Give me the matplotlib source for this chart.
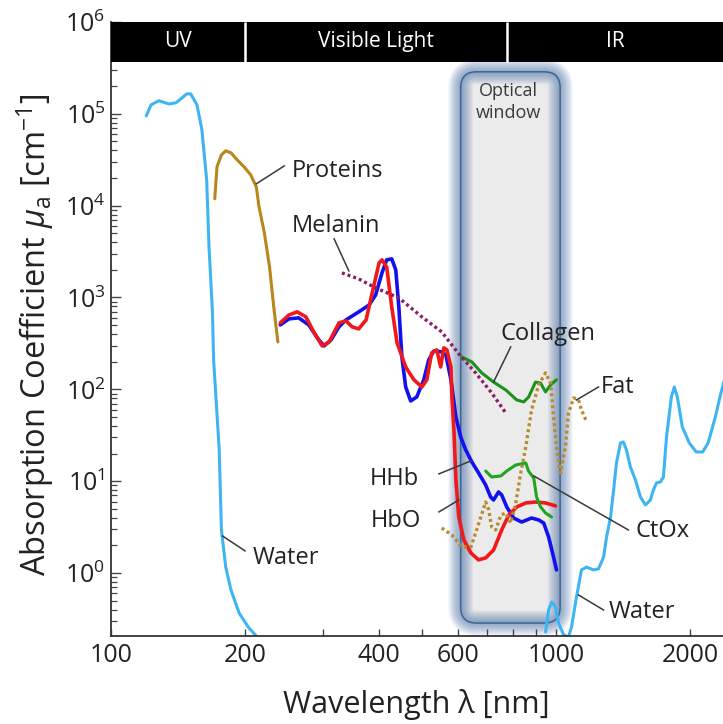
#!/usr/bin/env python3
"""
Absorption spectra of the main tissue chromophores, log-log plot
with the UV / visible / IR band header and the optical window.
"""

import matplotlib
matplotlib.use('Agg')
import matplotlib.pyplot as plt
from matplotlib.patches import Rectangle, FancyBboxPatch
from matplotlib.ticker import FixedLocator, LogLocator, NullFormatter

plt.rcParams['font.family'] = ['Open Sans', 'DejaVu Sans']
plt.rcParams['mathtext.fontset'] = 'custom'
plt.rcParams['mathtext.rm'] = 'Open Sans'
plt.rcParams['mathtext.it'] = 'Open Sans:italic'

# ---- spectra (wavelength in nm, mu_a in cm^-1) ----
WATER_UV_NM = [120, 123, 128, 135, 140, 148, 151, 156, 160, 164, 166, 169,
               170, 175, 177, 181, 186, 194, 204, 212]
WATER_UV_MUA = [9.5e4, 1.25e5, 1.39e5, 1.28e5, 1.32e5, 1.65e5, 1.65e5, 1.25e5,
                6.7e4, 1.91e4, 3.56e3, 680, 209, 21.9, 2.94, 1.16, 0.65, 0.366,
                0.252, 0.206]

PROTEIN_NM = [171, 173, 177, 181, 186, 192, 199, 206, 212, 215, 221, 227, 232, 237]
PROTEIN_MUA = [1.19e4, 2.65e4, 3.57e4, 3.96e4, 3.76e4, 3.15e4, 2.65e4, 2.16e4,
               1.6e4, 9.7e3, 5.06e3, 2.15e3, 790, 328]

HHB_NM = [240, 251, 264, 278, 293, 301, 312, 325, 337, 360, 380, 393, 406, 416,
          427, 436, 443, 450, 459, 471, 486, 504, 517, 531, 553, 565, 580, 595,
          610, 626, 646, 669, 694, 712, 723, 742, 754, 774, 802, 836, 880, 913,
          937, 961, 986, 1001]
HHB_MUA = [503, 585, 600, 503, 345, 297, 345, 479, 570, 697, 830, 1067, 1854,
           2569, 2634, 1998, 790, 225, 106, 74.7, 82.6, 127, 209, 262, 256, 237,
           127, 50.0, 30.3, 21.9, 16.2, 12.3, 9.09, 6.73, 6.24, 7.63, 7.07, 5.24,
           3.97, 3.59, 3.97, 3.78, 3.50, 2.47, 1.49, 1.08]

HBO_NM = [240, 251, 262, 274, 286, 298, 309, 325, 337, 348, 360, 374, 386, 400,
          406, 416, 427, 439, 459, 479, 499, 512, 525, 539, 550, 559, 568, 580,
          583, 589, 595, 604, 620, 643, 669, 694, 723, 754, 782, 815, 854, 898,
          946, 996]
HBO_MUA = [529, 646, 697, 615, 412, 297, 328, 529, 556, 479, 455, 570, 1122,
           2382, 2569, 2154, 790, 320, 175, 127, 106, 127, 249, 269, 175, 283,
           269, 175, 82.6, 36.1, 10.3, 4.07, 2.29, 1.65, 1.39, 1.46, 1.78, 2.94,
           4.28, 5.24, 5.79, 5.93, 5.79, 5.37]

MELANIN_NM = [330, 360, 393, 443, 499, 553, 604, 659, 716, 770]
MELANIN_MUA = [1854, 1594, 1272, 990, 615, 422, 243, 151, 91.4, 55.3]

COLLAGEN_NM = [613, 646, 680, 723, 770, 815, 845, 867, 898, 922, 946, 971, 1001]
COLLAGEN_MUA = [225, 199, 151, 120, 98.5, 76.6, 72.9, 82.6, 120, 117, 93.7, 112, 127]

CTOX_NM = [694, 716, 751, 774, 811, 854, 866, 890, 903, 922, 946, 976]
CTOX_MUA = [12.9, 11.1, 11.4, 12.9, 15.0, 15.8, 12.9, 10.8, 6.73, 5.24, 4.50, 4.07]

FAT_NM = [553, 583, 613, 643, 659, 677, 694, 705, 716, 731, 751, 770, 790, 811,
          832, 854, 880, 913, 946, 971, 986, 1001, 1022, 1048, 1065, 1094, 1122,
          1139, 1165]
FAT_MUA = [3.09, 2.59, 1.92, 1.92, 2.73, 4.07, 5.93, 4.86, 3.17, 2.94, 4.28,
           4.50, 3.50, 5.79, 12.3, 23.6, 59.7, 112, 151, 117, 50.0, 23.6, 12.3,
           23.6, 55.3, 80.6, 76.6, 59.7, 46.4]

WATER_IR_NM = [946, 961, 976, 996, 1012, 1039, 1065, 1082, 1110, 1139, 1169,
               1212, 1244, 1277, 1297, 1324, 1345, 1365, 1394, 1415, 1437, 1467,
               1506, 1545, 1586, 1627, 1652, 1679, 1713, 1740, 1768, 1813, 1841,
               1870, 1919, 1989, 2062, 2132, 2193, 2276, 2337, 2385]
WATER_IR_MUA = [0.228, 0.395, 0.483, 0.426, 0.285, 0.211, 0.201, 0.258, 0.548,
                1.08, 1.16, 1.08, 1.11, 1.49, 2.47, 4.07, 8.02, 15.8, 26.1, 26.7,
                21.9, 14.3, 10.3, 6.73, 5.51, 6.24, 8.02, 9.56, 9.8, 11.1, 30.3,
                82.6, 106, 82.6, 38.9, 26.1, 20.8, 20.8, 26.1, 50.0, 86.9, 127]

# spectral bands in the header and the optical window
BAND_NAMES = ['UV', 'Visible Light', 'IR']
BAND_EDGES_NM = [100, 200, 775, 2368]
WINDOW_NM = [610, 1020]

XTICKS = [100, 200, 400, 600, 1000, 2000]
XMINOR = [300, 500, 700, 800, 900]
YTICKS = [1e0, 1e1, 1e2, 1e3, 1e4, 1e5, 1e6]

XLIM = (100, 2368)
YLIM = (0.206, 1e6)
HEADER_BOTTOM = 3.68e5
WINDOW_MUA = [0.285, 2.87e5]

# curve labels: text, text anchor (left/baseline), leader line ends
LABELS = [
    ('Proteins', (254, 2.06e4), [(212, 1.73e4), (245, 2.71e4)]),
    ('Melanin', (254, 5.18e3), [(317, 4350), (342, 1950)]),
    ('Collagen', (750, 345), [(790, 290), (723, 120)]),
    ('Fat', (1258, 91.4), [(1244, 106), (1110, 76.6)]),
    ('HHb', (381, 9.09), [(545, 12.0), (643, 16.6)]),
    ('HbO', (383, 3.17), [(545, 4.62), (604, 6.24)]),
    ('CtOx', (1506, 2.47), [(890, 11.4), (1452, 2.94)]),
    ('Water', (1310, 0.323), [(1122, 0.576), (1277, 0.395)]),
    ('Water', (208, 1.25), [(178, 2.53), (200, 1.74)]),
]

TEXT_COLOR = '#222222'

fig = plt.figure(figsize=(7.23, 7.24), dpi=100)
ax = fig.add_axes([111 / 723, 88 / 724, 612 / 723, 614 / 724])
ax.set_xscale('log')
ax.set_yscale('log')
ax.set_xlim(*XLIM)
ax.set_ylim(*YLIM)

# optical window: grey box with a soft blue glow
def to_fig(x, y):
    return fig.transFigure.inverted().transform(ax.transData.transform((x, y)))

(wx0, wy0) = to_fig(WINDOW_NM[0], WINDOW_MUA[0])
(wx1, wy1) = to_fig(WINDOW_NM[1], WINDOW_MUA[1])
box_style = 'round,pad=0,rounding_size=0.022'


def window_patch(**kw):
    return FancyBboxPatch((wx0, wy0), wx1 - wx0, wy1 - wy0, boxstyle=box_style,
                          transform=fig.transFigure, **kw)


ax.add_patch(window_patch(facecolor='#ebebeb', edgecolor='none', zorder=0.5))
for k in range(1, 13):
    ax.add_patch(window_patch(facecolor='none', edgecolor='#4a70a6', lw=1.5 * k,
                              alpha=0.065, zorder=0.6))
ax.add_patch(window_patch(facecolor='none', edgecolor='#3b6796', lw=1.1, zorder=0.7))
ax.text(780, 1.35e5, 'Optical\nwindow', ha='center', va='center', fontsize=13,
        color='#3a3a3a', linespacing=1.3, zorder=1)

# spectra
line_kw = dict(solid_joinstyle='round', solid_capstyle='round')
ax.plot(WATER_UV_NM, WATER_UV_MUA, color='#3db5f2', lw=2.2, **line_kw)
ax.plot(WATER_IR_NM, WATER_IR_MUA, color='#3db5f2', lw=2.2, **line_kw)
ax.plot(PROTEIN_NM, PROTEIN_MUA, color='#b8861c', lw=2.2, **line_kw)
ax.plot(HHB_NM, HHB_MUA, color='#1010f0', lw=2.6, **line_kw)
ax.plot(HBO_NM, HBO_MUA, color='#f01818', lw=2.6, **line_kw)
ax.plot(COLLAGEN_NM, COLLAGEN_MUA, color='#1b931b', lw=2.2, **line_kw)
ax.plot(CTOX_NM, CTOX_MUA, color='#1fa51f', lw=2.2, **line_kw)
ax.plot(MELANIN_NM, MELANIN_MUA, color='#8a1f62', lw=2.4,
        linestyle=(0, (0.9, 0.9)), dash_capstyle='butt')
ax.plot(FAT_NM, FAT_MUA, color='#b98a2e', lw=2.4,
        linestyle=(0, (0.9, 0.9)), dash_capstyle='butt')

# labels with leader lines
for text, (tx, ty), leader in LABELS:
    lx, ly = zip(*leader)
    ax.plot(lx, ly, color='#3a3a3a', lw=1.1, zorder=4)
    ax.text(tx, ty, text, ha='left', va='baseline', fontsize=17,
            color=TEXT_COLOR, zorder=6)

# band header
ax.add_patch(Rectangle((BAND_EDGES_NM[0], HEADER_BOTTOM),
                       BAND_EDGES_NM[-1] - BAND_EDGES_NM[0],
                       YLIM[1] - HEADER_BOTTOM, facecolor='black',
                       edgecolor='none', zorder=8, clip_on=False))
ax.vlines(BAND_EDGES_NM[1:-1], HEADER_BOTTOM, YLIM[1], color='white', lw=1.8,
          zorder=9)
for name, lo, hi in zip(BAND_NAMES, BAND_EDGES_NM[:-1], BAND_EDGES_NM[1:]):
    ax.text((lo * hi) ** 0.5, (HEADER_BOTTOM * YLIM[1]) ** 0.5, name,
            ha='center', va='center', color='white', fontsize=15, zorder=10)

# axes styling
ax.set_xticks(XTICKS, labels=[str(v) for v in XTICKS])
ax.xaxis.set_minor_locator(FixedLocator(XMINOR))
ax.xaxis.set_minor_formatter(NullFormatter())
ax.yaxis.set_major_locator(FixedLocator(YTICKS))
ax.yaxis.set_minor_locator(LogLocator(base=10, subs=range(2, 10)))
ax.yaxis.set_minor_formatter(NullFormatter())
ax.tick_params(axis='x', which='both', direction='in', length=5, width=1,
               color='#444444', labelsize=18, labelcolor=TEXT_COLOR, pad=5)
ax.tick_params(axis='y', which='major', direction='in', length=7, width=1,
               color='#444444', labelsize=18, labelcolor=TEXT_COLOR, pad=4)
ax.tick_params(axis='y', which='minor', direction='in', length=4, width=0.9,
               color='#444444')
for side in ['top', 'right']:
    ax.spines[side].set_visible(False)
for side in ['left', 'bottom']:
    ax.spines[side].set_linewidth(1.3)
    ax.spines[side].set_color('#333333')

fig.text(416 / 723, 1 - 704 / 724, 'Wavelength λ [nm]', ha='center',
         va='center', fontsize=22, color=TEXT_COLOR)
fig.text(35 / 723, 1 - 335 / 724,
         r'Absorption Coefficient $\mu_\mathrm{a}$ [cm$^{-1}$]',
         ha='center', va='center', rotation=90, fontsize=23.5, color=TEXT_COLOR)

fig.savefig('out.png', dpi=100)
plt.close(fig)
